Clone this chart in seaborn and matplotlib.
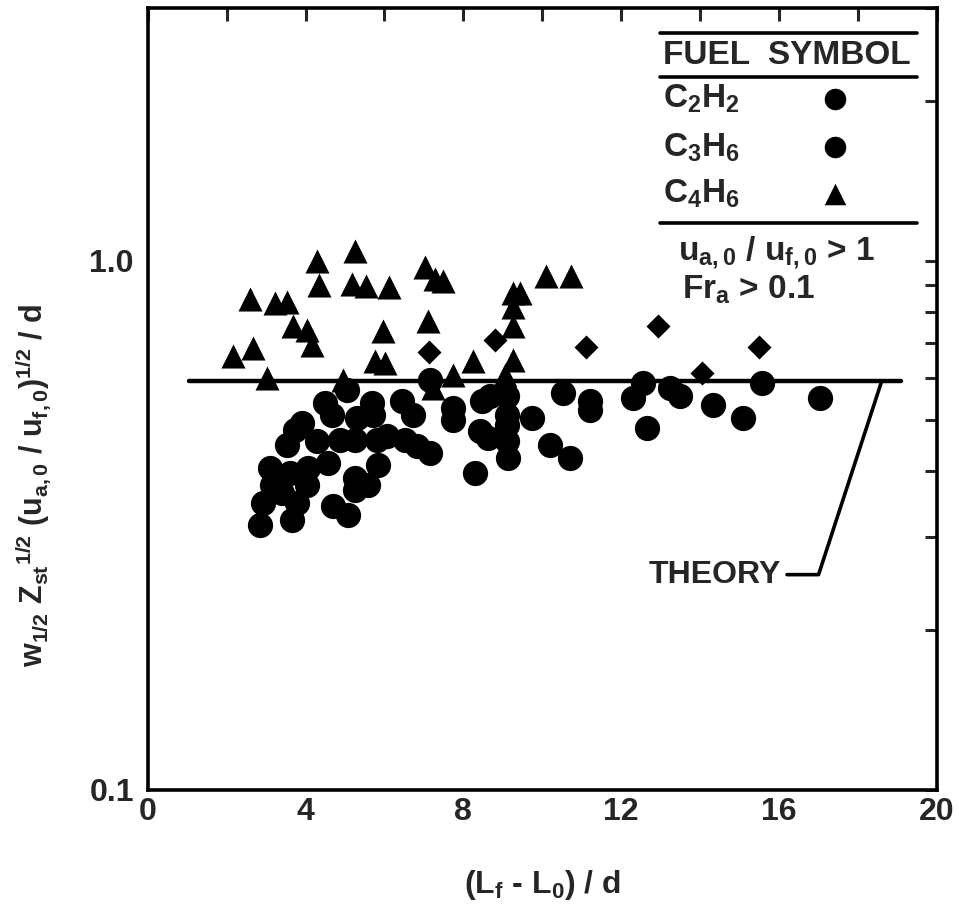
import numpy as np
import pandas as pd
import matplotlib
matplotlib.use("Agg")
import matplotlib.pyplot as plt
from matplotlib.ticker import FixedLocator, NullFormatter, FixedFormatter
import seaborn as sns

# ---------------- data ----------------
# C4H6 (triangles)
tri_x = [2.15, 2.66, 2.59, 3.22, 3.52, 3.02, 3.68, 4.03, 4.16, 4.28, 4.33, 5.17,
         5.25, 5.53, 6.11, 5.96, 5.75, 6.01, 4.94, 7.02, 7.27, 7.48, 7.10, 8.24,
         7.73, 9.25, 9.43, 9.25, 9.25, 9.25, 10.09, 10.72, 9.05, 7.22]
tri_y = [0.659, 0.683, 0.848, 0.830, 0.837, 0.599, 0.751, 0.738, 0.692, 1.000, 0.901, 0.905,
         1.044, 0.897, 0.890, 0.735, 0.645, 0.640, 0.594, 0.974, 0.925, 0.917, 0.768, 0.645,
         0.607, 0.867, 0.867, 0.819, 0.754, 0.648, 0.937, 0.937, 0.607, 0.574]

# C2H2 (diamonds in the data field)
dia_x = [7.12, 8.80, 11.10, 12.93, 14.04, 15.49]
dia_y = [0.671, 0.707, 0.686, 0.754, 0.613, 0.686]

# C3H6 (circles)
cir_x = [2.84, 3.65, 2.92, 3.78, 3.14, 3.09, 3.40, 3.60, 4.06, 4.56, 4.03, 3.52,
         3.90, 3.73, 4.28, 4.87, 5.25, 4.49, 4.66, 5.30, 5.68, 5.70, 5.80, 6.06,
         6.51, 6.82, 7.15, 6.44, 6.72, 5.25, 5.25, 5.58, 5.83, 4.69, 5.07, 5.04,
         7.15, 7.73, 7.73, 8.47, 8.67, 9.10, 9.10, 9.10, 9.10, 9.13, 8.42, 8.62,
         9.73, 10.19, 10.70, 8.29, 10.52, 11.20, 11.20, 12.29, 12.55, 13.23, 13.49,
         12.65, 14.32, 15.08, 15.56, 17.03]
cir_y = [0.316, 0.324, 0.349, 0.349, 0.377, 0.406, 0.364, 0.397, 0.406, 0.415, 0.377, 0.448,
         0.493, 0.478, 0.456, 0.458, 0.458, 0.538, 0.511, 0.504, 0.538, 0.511, 0.458, 0.466,
         0.458, 0.446, 0.433, 0.543, 0.511, 0.388, 0.369, 0.377, 0.411, 0.344, 0.330, 0.569,
         0.594, 0.526, 0.500, 0.543, 0.554, 0.554, 0.511, 0.489, 0.456, 0.424, 0.476, 0.462,
         0.504, 0.448, 0.424, 0.397, 0.562, 0.543, 0.522, 0.550, 0.587, 0.574, 0.554,
         0.483, 0.533, 0.504, 0.587, 0.550]

# theory line
theory_x = [1.05, 19.1]
theory_y = [0.592, 0.592]

x_ticks = [0, 4, 8, 12, 16, 20]
x_tick_labels = ["0", "4", "8", "12", "16", "20"]
y_ticks = [0.1, 1.0]
y_tick_labels = ["0.1", "1.0"]

legend_fuels = ["C$_2$H$_2$", "C$_3$H$_6$", "C$_4$H$_6$"]

# ---------------- style ----------------
sns.set_style("white")
plt.rcParams["font.family"] = ["Liberation Sans", "DejaVu Sans"]
plt.rcParams["font.weight"] = "bold"
plt.rcParams["mathtext.fontset"] = "custom"
plt.rcParams["mathtext.rm"] = "Liberation Sans:bold"
plt.rcParams["mathtext.it"] = "Liberation Sans:bold"
plt.rcParams["mathtext.bf"] = "Liberation Sans:bold"
plt.rcParams["mathtext.sf"] = "Liberation Sans:bold"

fig = plt.figure(figsize=(9.59, 9.13), dpi=100)
ax = fig.add_axes([0.154, 0.135, 0.823, 0.856])

sns.scatterplot(x=cir_x, y=cir_y, marker="o", s=330, color="black", linewidth=0, ax=ax)
sns.scatterplot(x=tri_x, y=tri_y, marker="^", s=300, color="black", linewidth=0, ax=ax)
sns.scatterplot(x=dia_x, y=dia_y, marker="D", s=150, color="black", linewidth=0, ax=ax)
sns.lineplot(x=theory_x, y=theory_y, color="black", linewidth=3.2, ax=ax)

ax.set_yscale("log")
ax.set_xlim(0, 20)
ax.set_ylim(0.1, 3.0)

ax.xaxis.set_major_locator(FixedLocator(x_ticks))
ax.xaxis.set_major_formatter(FixedFormatter(x_tick_labels))
ax.xaxis.set_minor_locator(FixedLocator([2, 6, 10, 14, 18]))
ax.yaxis.set_major_locator(FixedLocator(y_ticks))
ax.yaxis.set_major_formatter(FixedFormatter(y_tick_labels))
ax.yaxis.set_minor_locator(FixedLocator([0.2, 0.3, 0.4, 0.5, 0.6, 0.7, 0.8, 0.9, 2.0, 3.0]))
ax.yaxis.set_minor_formatter(NullFormatter())

ax.tick_params(which="both", direction="in", top=True, right=True, width=2.2,
               length=9, labelsize=23)
ax.tick_params(axis="x", pad=5)
ax.tick_params(axis="y", pad=10)
for lab in ax.get_xticklabels() + ax.get_yticklabels():
    lab.set_fontweight("bold")
for sp in ax.spines.values():
    sp.set_linewidth(2.6)
    sp.set_color("black")

ax.set_xlabel("(L$_f$ - L$_0$) / d", fontsize=23, fontweight="bold", labelpad=30)
ax.set_ylabel("")
fig.text(0.035, 0.468,
         r"w$_{1/2}$ Z$_{st}$$^{1/2}$ (u$_{a,0}$ / u$_{f,0}$)$^{1/2}$ / d",
         rotation=90, fontsize=22, fontweight="bold", ha="center", va="center")

# theory annotation
ax.text(16.05, 0.255, "THEORY", fontsize=23, fontweight="bold", ha="right", va="center")
ax.plot([16.2, 17.0, 18.6], [0.255, 0.255, 0.592], color="black", linewidth=2.6)

# legend table (upper right)
tr = ax.transAxes
ax.plot([0.649, 0.975], [0.968, 0.968], color="black", linewidth=2.6, transform=tr, clip_on=False)
ax.text(0.653, 0.939, "FUEL  SYMBOL", fontsize=24, fontweight="bold", ha="left", va="center", transform=tr)
ax.plot([0.649, 0.975], [0.912, 0.912], color="black", linewidth=2.6, transform=tr, clip_on=False)
leg_y = [0.884, 0.822, 0.762]
leg_m = ["o", "o", "^"]
for lab, yy, mk in zip(legend_fuels, leg_y, leg_m):
    ax.text(0.653, yy, lab, fontsize=24, fontweight="bold", ha="left", va="center", transform=tr)
    ax.scatter([0.871], [yy], marker=mk, s=240, color="black", linewidth=0, transform=tr)
ax.plot([0.649, 0.975], [0.725, 0.725], color="black", linewidth=2.6, transform=tr, clip_on=False)
ax.text(0.672, 0.688, r"u$_{a,0}$ / u$_{f,0}$ > 1", fontsize=24, fontweight="bold",
        ha="left", va="center", transform=tr)
ax.text(0.677, 0.640, r"Fr$_a$ > 0.1", fontsize=24, fontweight="bold",
        ha="left", va="center", transform=tr)

fig.savefig("out.png", dpi=100)
